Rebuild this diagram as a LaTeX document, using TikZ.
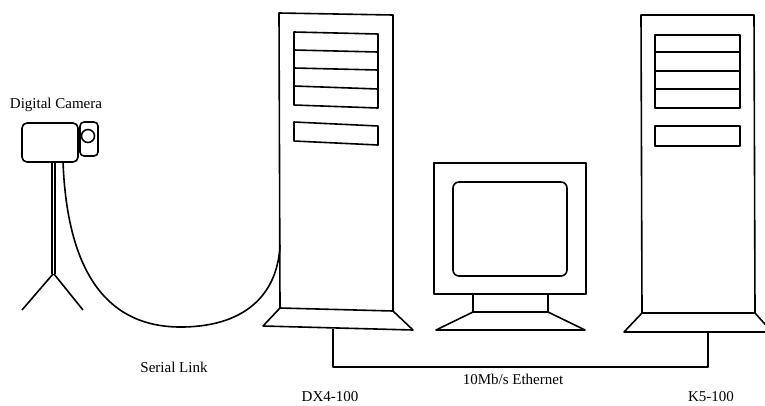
\documentclass[tikz,border=0pt]{standalone}
\usepackage{fontspec}
\setmainfont{Liberation Serif}
\begin{document}
\begin{tikzpicture}[x=1pt,y=-1pt,line join=round,
  outline/.style={draw=black,line width=1.6pt},
  caption/.style={font=\fontsize{15}{17}\selectfont,inner sep=0pt}]
\useasboundingbox (0,0) rectangle (765,405);
\clip (0,0) rectangle (765,405);

% ---- digital camera on its tripod ----
\draw[outline,rounded corners=5pt] (22,123) rectangle (78,162);
\draw[outline,rounded corners=4pt] (80,122) rectangle (98,156);
\draw[outline] (88,136) circle[radius=6.5];
\draw[outline] (52,162) -- (52,274) (55,162) -- (55,274);
\draw[outline] (53,274) -- (22,310) (54,274) -- (83,310);
\coordinate (cam-port) at (63,162);
\node[caption] (cam-label) at (56,105) {Digital Camera};

% ---- DX4-100 tower ----
\draw[outline] (280,308) -- (279,13) -- (393,15) -- (393,311);
\draw[outline] (280,308) -- (393,311) -- (413,330) -- (263,326) -- cycle;
\draw[outline] (294,32) -- (378,34) -- (378,108) -- (294,105) -- cycle;
\draw[outline] (294,50) -- (378,52) (294,68) -- (378,70) (294,86) -- (378,89);
\draw[outline] (294,122) -- (378,126) -- (378,145) -- (294,141) -- cycle;
\coordinate (dx-side) at (280,245);
\coordinate (dx-foot) at (333,329);
\node[caption] (dx-label) at (330,397) {DX4-100};

% ---- monitor ----
\draw[outline] (434,163) rectangle (586,294);
\draw[outline,rounded corners=6pt] (453,182) rectangle (567,276);
\draw[outline] (473,294) rectangle (548,312);
\draw[outline] (473,312) -- (548,312) -- (585,330) -- (436,330) -- cycle;

% ---- K5-100 tower ----
\draw[outline] (642,313) -- (641,15) -- (754,15) -- (755,313);
\draw[outline] (642,313) -- (755,313) -- (772,332) -- (624,332) -- cycle;
\draw[outline] (655,35) rectangle (740,108);
\draw[outline] (655,52) -- (740,52) (655,71) -- (740,71) (655,89) -- (740,89);
\draw[outline] (655,126) rectangle (740,146);
\coordinate (k5-foot) at (708,332);
\node[caption] (k5-label) at (711,397) {K5-100};

% ---- serial link ----
\draw[outline] (cam-port) .. controls (68,290) and (120,328) .. (183,327)
  coordinate (cable-low) .. controls (250,326) and (278,290) .. (dx-side);
\node[caption] (serial-label) at (174,367) {Serial Link};

% ---- ethernet ----
\draw[outline] (dx-foot) -- (333,367) coordinate (eth-left)
  -- (708,367) coordinate (eth-right) -- (k5-foot);
\node[caption] (eth-label) at (513,379) {10Mb/s Ethernet};
\end{tikzpicture}
\end{document}
